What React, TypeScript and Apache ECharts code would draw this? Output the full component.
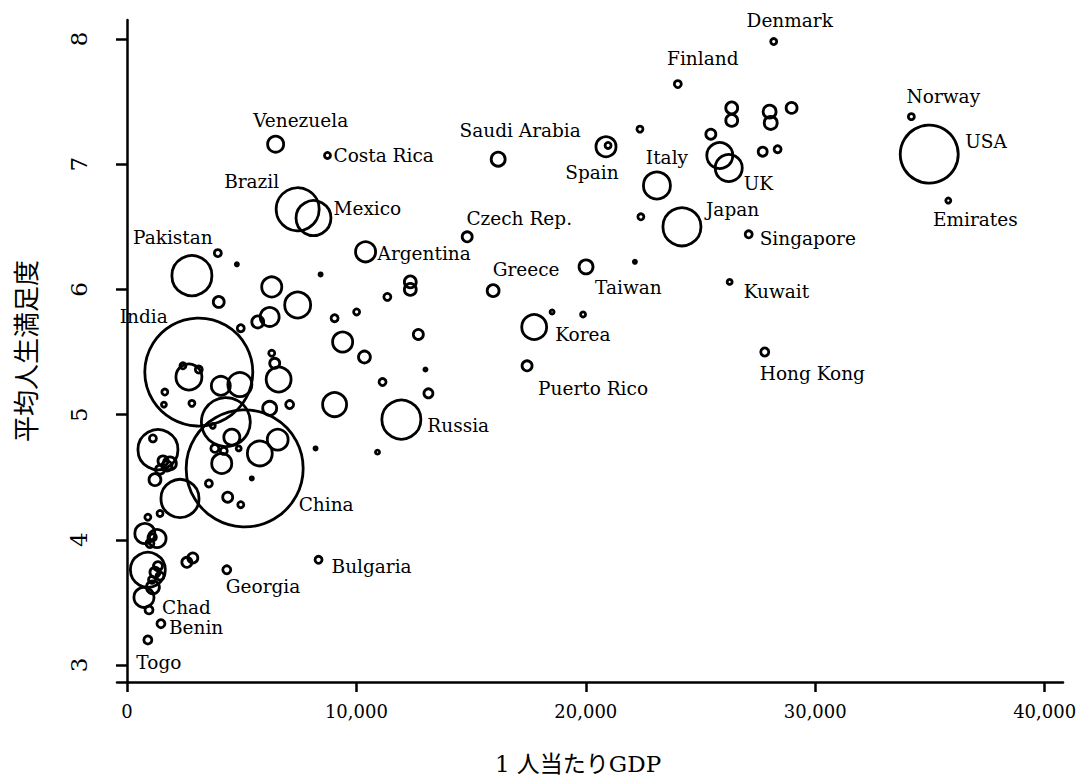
import React, { useEffect, useRef } from "react";
import * as echarts from "echarts";

// Country names ('' = unlabeled), GDP per capita, mean life satisfaction, population (millions)
const NAMES = [
  "Denmark", "Finland", "Norway", "USA", "Emirates", "Saudi Arabia", "Spain", "Italy", "Japan", "UK",
  "Singapore", "Kuwait", "Hong Kong", "Taiwan", "Greece", "Korea", "Puerto Rico", "Russia", "Argentina", "Czech Rep.",
  "Costa Rica", "Venezuela", "Brazil", "Mexico", "Pakistan", "India", "China", "Bulgaria", "Georgia", "Chad",
  "Benin", "Togo",
];
const GDP_LABELED = [
  28190, 24010, 34190, 34970, 35800, 16180, 20880, 23100, 24190, 26230,
  27100, 26270, 27800, 20010, 15960, 17750, 17440, 11960, 10400, 14830,
  8740, 6480, 7440, 8130, 2830, 3130, 5130, 8350, 4350, 960,
  1480, 910,
];
const SAT_LABELED = [
  7.98, 7.64, 7.38, 7.08, 6.71, 7.04, 7.14, 6.83, 6.5, 6.97,
  6.44, 6.06, 5.5, 6.18, 5.99, 5.7, 5.39, 4.96, 6.3, 6.42,
  7.07, 7.16, 6.64, 6.57, 6.11, 5.34, 4.57, 3.84, 3.76, 3.44,
  3.33, 3.2,
];
const POP_LABELED = [
  3.3, 4.5, 3.3, 309, 2.3, 18, 37, 67, 133, 67,
  4.5, 2.3, 5.9, 18, 13, 57, 9.2, 140, 37, 9.2,
  3.3, 23.5, 170, 112, 147, 1071, 1257, 4.5, 5.9, 5.9,
  5.9, 5.9,
];

const GDP_OTHER = [
  20970, 25840, 22360, 26360, 26360, 28010, 28060, 28970, 25450, 27710, 28360, 22400, 22140, 18530, 19880,
  11350, 12350, 12350, 12700, 10350, 13010, 11140, 13140, 10920, 3960, 4790, 8440, 4000, 6310, 7440,
  6220, 5700, 4960, 9050, 10010, 9400, 9050, 8220, 6310, 6440, 6610, 7090, 6220, 2700, 2440,
  3130, 4090, 4920, 1650, 1610, 2830, 4310, 3740, 4570, 3830, 4220, 4870, 5790, 6570, 4130,
  5440, 3570, 4390, 4960, 1350, 1130, 1570, 1740, 1440, 1870, 1220, 2310, 1440, 910, 780,
  1310, 1000, 1130, 910, 1220, 1350, 1440, 1090, 1130, 740, 2610, 2870,
];
const SAT_OTHER = [
  7.15, 7.07, 7.28, 7.45, 7.35, 7.42, 7.33, 7.45, 7.24, 7.1, 7.12, 6.58, 6.22, 5.82, 5.8,
  5.94, 6.06, 6.0, 5.64, 5.46, 5.36, 5.26, 5.17, 4.7, 6.29, 6.2, 6.12, 5.9, 6.02, 5.875,
  5.78, 5.74, 5.69, 5.77, 5.82, 5.58, 5.08, 4.73, 5.49, 5.41, 5.28, 5.08, 5.05, 5.3, 5.39,
  5.36, 5.23, 5.24, 5.18, 5.08, 5.09, 4.94, 4.91, 4.82, 4.73, 4.71, 4.73, 4.69, 4.8, 4.61,
  4.49, 4.45, 4.34, 4.28, 4.72, 4.81, 4.63, 4.59, 4.56, 4.61, 4.48, 4.33, 4.21, 4.18, 4.05,
  4.01, 3.97, 4.02, 3.76, 3.74, 3.79, 3.71, 3.68, 3.62, 3.54, 3.82, 3.855,
];
const POP_OTHER = [
  3.3, 62, 3.3, 13, 13, 15.5, 15.5, 11, 9.2, 7.4, 4.5, 3.3, 0.9, 1.5, 2.3,
  4.5, 13, 13, 9.2, 13, 0.9, 4.5, 7.4, 1.5, 4.5, 0.9, 0.9, 11, 37, 62,
  33, 13, 4.5, 4.5, 3.3, 37, 53, 0.9, 3.3, 9.2, 57, 5.9, 18, 62, 3.3,
  4.5, 33, 53, 3.3, 2.3, 3.3, 220, 2.3, 23.5, 5.9, 4.5, 2.3, 57, 40, 37,
  0.9, 4.5, 9.2, 3.3, 147, 4.5, 9.2, 9.2, 7.4, 15.5, 13, 133, 3.3, 3.3, 37,
  30, 5.9, 4.5, 112, 9.2, 7.4, 5.9, 4.5, 15.5, 37, 9.2, 9.2,
];

const X_TICKS = [0, 10000, 20000, 30000, 40000];
const Y_TICKS = [3, 4, 5, 6, 7, 8];

// label layout: [dx, dy, align]
const LABEL_LAYOUT: Record<string, [number, number, string]> = {
  Denmark: [16, -21, "center"],
  Finland: [25, -26, "center"],
  Norway: [32, -20, "center"],
  USA: [36, -13, "left"],
  Emirates: [27, 19, "center"],
  "Saudi Arabia": [22, -29, "center"],
  Spain: [-14, 26, "center"],
  Italy: [10, -28, "center"],
  Japan: [24, -17, "left"],
  UK: [15, 16, "left"],
  Singapore: [11, 4, "left"],
  Kuwait: [14, 10, "left"],
  "Hong Kong": [-5, 21, "left"],
  Taiwan: [9, 21, "left"],
  Greece: [33, -21, "center"],
  Korea: [21, 8, "left"],
  "Puerto Rico": [11, 23, "left"],
  Russia: [26, 6, "left"],
  Argentina: [12, 2, "left"],
  "Czech Rep.": [52, -18, "center"],
  "Costa Rica": [6, 0, "left"],
  Venezuela: [25, -24, "center"],
  Brazil: [-46, -28, "center"],
  Mexico: [20, -10, "left"],
  Pakistan: [-19, -38, "center"],
  India: [-55, -56, "center"],
  China: [54, 36, "left"],
  Bulgaria: [13, 7, "left"],
  Georgia: [-1, 17, "left"],
  Chad: [13, -2, "left"],
  Benin: [8, 4, "left"],
  Togo: [11, 23, "center"],
};

const SERIF = "'DejaVu Serif', serif";

export default function App() {
  const ref = useRef<HTMLDivElement>(null);
  useEffect(() => {
    if (!ref.current) return;
    const chart = echarts.init(ref.current, undefined, { renderer: "svg" });

    const labeled = NAMES.map((n, i) => {
      const l = LABEL_LAYOUT[n] || [0, 0, "center"];
      return {
        name: n,
        value: [GDP_LABELED[i], SAT_LABELED[i], POP_LABELED[i]],
        label: {
          show: true,
          formatter: n,
          position: "inside",
          offset: [l[0], l[1]],
          align: l[2],
          verticalAlign: "middle",
          fontFamily: SERIF,
          fontSize: 18.5,
          color: "#000",
        },
      };
    });
    const others = GDP_OTHER.map((g, i) => ({ value: [g, SAT_OTHER[i], POP_OTHER[i]] }));

    chart.setOption({
      animation: false,
      backgroundColor: "#fff",
      grid: { left: 117, right: 15, top: 20, bottom: 94, containLabel: false, outerBoundsMode: "none" },
      xAxis: {
        type: "value",
        min: -435,
        max: 40800,
        name: "1 人当たりGDP",
        nameLocation: "middle",
        nameGap: 72,
        nameTextStyle: {
          fontFamily: "'DejaVu Serif', 'Noto Sans CJK JP', serif",
          fontSize: 23,
          lineHeight: 20,
          color: "#000",
          padding: [0, 24, 0, 0],
        },
        axisLine: { show: true, lineStyle: { color: "#000", width: 2.5 } },
        axisTick: { show: true, length: 10, lineStyle: { color: "#000", width: 2.5 }, customValues: X_TICKS },
        axisLabel: {
          fontFamily: SERIF,
          fontSize: 18,
          color: "#000",
          margin: 20,
          customValues: X_TICKS,
          formatter: (v: number) => v.toLocaleString("en-US"),
        },
        splitLine: { show: false },
      },
      yAxis: {
        type: "value",
        min: 2.864,
        max: 8.152,
        name: "平均人生満足度",
        nameLocation: "middle",
        nameRotate: 90,
        nameGap: 80,
        nameTextStyle: {
          fontFamily: "'Noto Sans CJK JP', sans-serif",
          fontSize: 26,
          color: "#000",
        },
        axisLine: { show: true, lineStyle: { color: "#000", width: 2.5 } },
        axisTick: { show: true, length: 11, lineStyle: { color: "#000", width: 2.5 }, customValues: Y_TICKS },
        axisLabel: {
          fontFamily: SERIF,
          fontSize: 23,
          color: "#000",
          rotate: 90,
          margin: 27,
          customValues: Y_TICKS,
        },
        splitLine: { show: false },
      },
      series: [
        {
          type: "scatter",
          symbol: "circle",
          symbolSize: (v: number[]) => 3.3 * Math.sqrt(v[2]),
          itemStyle: { color: "rgba(0,0,0,0)", borderColor: "#000", borderWidth: 2.8, opacity: 1 },
          emphasis: { disabled: true },
          data: [...labeled, ...others],
        },
      ],
    });
    return () => chart.dispose();
  }, []);
  return (
    <div
      ref={ref}
      style={{ position: "fixed", left: 0, top: 0, width: 1078, height: 776, background: "#fff" }}
    />
  );
}
